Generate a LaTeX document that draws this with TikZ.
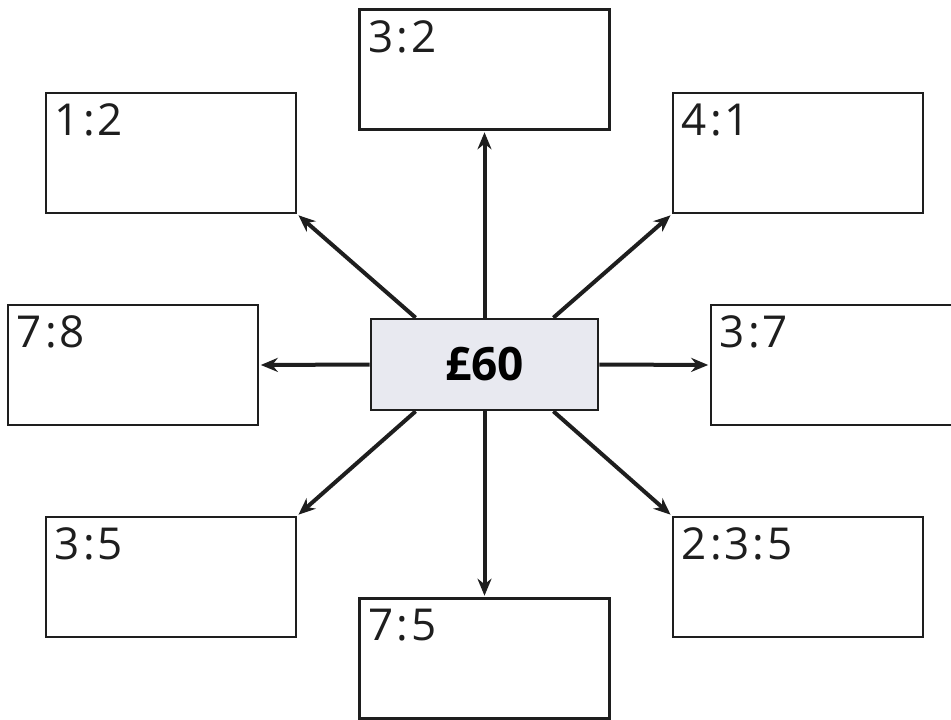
\documentclass[tikz,border=0pt]{standalone}
\usepackage{fontspec}
\setmainfont{Open Sans}
\usetikzlibrary{arrows.meta,calc}
\definecolor{lineclr}{HTML}{1E1E1E}
\definecolor{cfill}{HTML}{E8E9F0}
\newcommand{\rc}{\kern3pt:\kern3pt}
\tikzset{
  ratiobox/.style={draw=lineclr, line width=2.6pt, minimum width=250pt, minimum height=120pt, inner sep=0pt, fill=white},
  centrebox/.style={draw=lineclr, line width=2.6pt, fill=cfill, minimum width=227pt, minimum height=91pt, inner sep=0pt, font=\fontsize{46}{50}\selectfont\bfseries},
  lbl/.style={anchor=north west, inner sep=0pt, font=\fontsize{44}{48}\selectfont, text=lineclr},
  arr/.style={draw=lineclr, line width=4pt, -{Stealth[length=17pt,width=14pt]}, shorten >=1.5pt}
}
\begin{document}
\begin{tikzpicture}[x=1pt,y=-1pt]
\useasboundingbox (0,0) rectangle (951,720);
\node[ratiobox] (b32) at (484.5,69.5) {};
\node[ratiobox] (b12) at (171,153) {};
\node[ratiobox] (b41) at (798,153) {};
\node[ratiobox] (b78) at (133,365) {};
\node[ratiobox] (b37) at (836,365) {};
\node[ratiobox] (b35) at (171,577) {};
\node[ratiobox] (b235) at (798,577) {};
\node[ratiobox] (b75) at (484.5,658.5) {};
\node[centrebox] (c) at (484.5,364.5) {£60};
\node[lbl] (t32) at ($(b32.north west)+(10,12)$) {3\rc2};
\node[lbl] (t12) at ($(b12.north west)+(10,12)$) {1\rc2};
\node[lbl] (t41) at ($(b41.north west)+(10,12)$) {4\rc1};
\node[lbl] (t78) at ($(b78.north west)+(10,12)$) {7\rc8};
\node[lbl] (t37) at ($(b37.north west)+(10,12)$) {3\rc7};
\node[lbl] (t35) at ($(b35.north west)+(10,12)$) {3\rc5};
\node[lbl] (t235) at ($(b235.north west)+(10,12)$) {2\rc3\rc5};
\node[lbl] (t75) at ($(b75.north west)+(10,12)$) {7\rc5};
\draw[arr] (c.north) -- (b32.south);
\draw[arr] (c.south) -- (b75.north);
\draw[arr] (c.west) -- (b78.east);
\draw[arr] (c.east) -- (b37.west);
\draw[arr] ($(c.north west)!0.2!(c.north east)$) -- (b12.south east);
\draw[arr] ($(c.north west)!0.8!(c.north east)$) -- (b41.south west);
\draw[arr] ($(c.south west)!0.2!(c.south east)$) -- (b35.north east);
\draw[arr] ($(c.south west)!0.8!(c.south east)$) -- (b235.north west);
\end{tikzpicture}
\end{document}
